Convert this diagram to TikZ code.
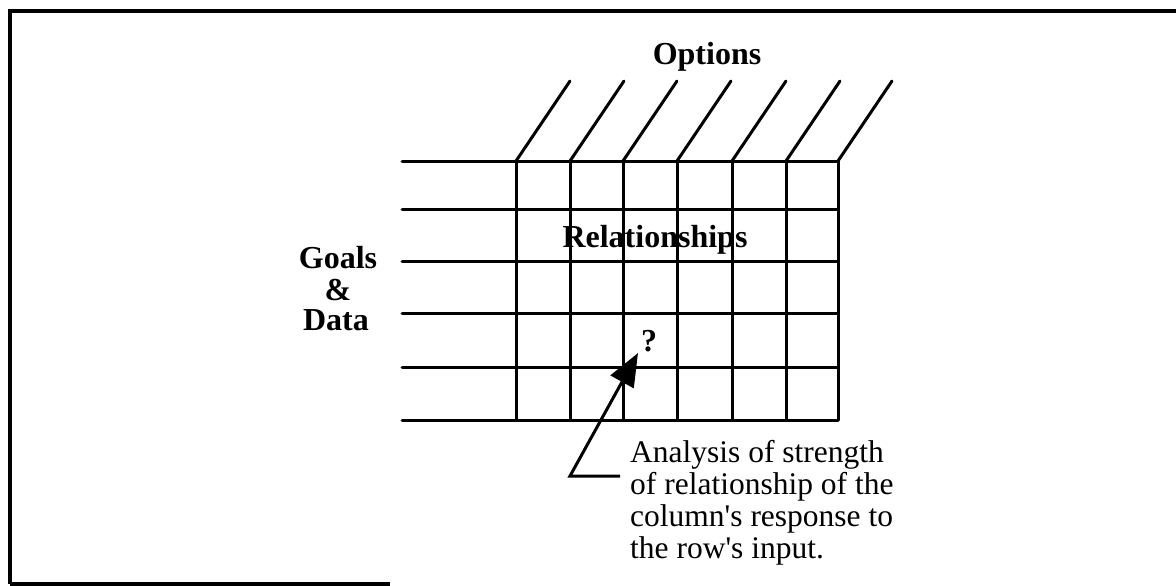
\documentclass[tikz,border=0pt]{standalone}
\usepackage{fontspec}
\setmainfont{Liberation Serif}
\usetikzlibrary{arrows.meta}
\begin{document}
\begin{tikzpicture}[x=1pt,y=-1pt,
  gridline/.style={line width=3pt, line cap=round},
  frameline/.style={line width=3.5pt},
  boldlabel/.style={font=\fontsize{32}{32}\selectfont\bfseries, inner sep=0pt},
  notelabel/.style={font=\fontsize{31.5}{31.7}\selectfont, inner sep=0pt, align=left},
  pointer/.style={line width=3pt, -{Triangle[length=33pt,width=26pt]}}]
\useasboundingbox (0,0) rectangle (1176,586);
% frame
\draw[frameline] (10,584) -- (10,11) -- (1176,11);
\draw[frameline] (10,584) -- (390,584);
% rows
\foreach \y in {161,209,261,313,367,420}
  \draw[gridline] (402,\y) -- (838,\y);
% columns and option strokes
\foreach \x in {516,570,623,677,732,786,838} {
  \draw[gridline] (\x,161) -- (\x,420);
  \draw[gridline] (\x,161) -- ++(54,-80);
}
% labels
\node[boldlabel, anchor=base] (options) at (707,65) {Options};
\node[boldlabel, anchor=base] (rel) at (655,247) {Relationships};
\node[boldlabel, anchor=base] (q) at (649,351) {?};
\node[boldlabel, anchor=base] (goals) at (338,268) {Goals};
\node[boldlabel, anchor=base] (amp) at (338,300) {\&};
\node[boldlabel, anchor=base] (data) at (336,330) {Data};
\node[notelabel, anchor=base west] (note) at (630,558)
  {Analysis of strength\\of relationship of the\\column\textquotesingle s response to\\the row\textquotesingle s input.};
% pointer
\coordinate (lead) at (620,476);
\coordinate (elbow) at (570,476);
\coordinate (tip) at (638,353);
\draw[pointer] (lead) -- (elbow) -- (tip);
\end{tikzpicture}
\end{document}
